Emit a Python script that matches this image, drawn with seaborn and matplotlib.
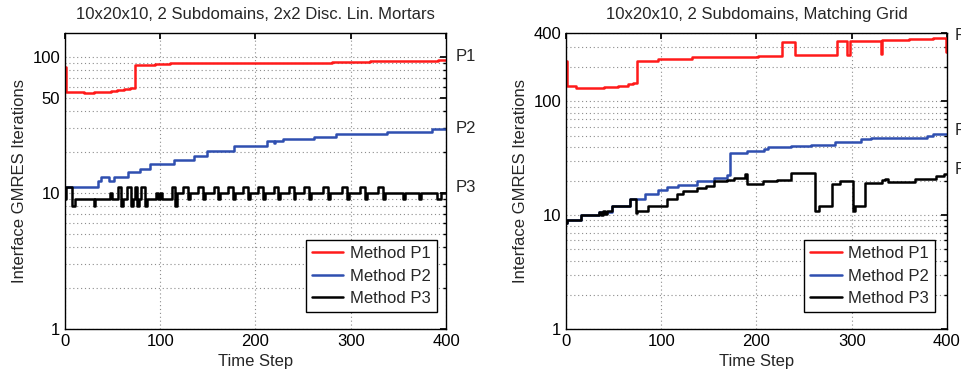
import matplotlib
matplotlib.use("Agg")
import matplotlib.pyplot as plt
import seaborn as sns
import pandas as pd
from matplotlib.ticker import FixedLocator, FixedFormatter, LogLocator, NullFormatter

# ---- data: step breakpoints (time step, iterations) ----
# left panel: 2x2 discontinuous linear mortars
left_p1_t = [0, 1, 20, 30, 48, 55, 62, 68, 73, 83, 95, 110, 130, 200, 280, 320, 340, 360, 375, 392, 400]
left_p1_v = [85, 55, 54, 55, 56, 57, 58, 59, 87, 88, 89, 90, 91, 91, 92, 93, 94, 93, 94, 95, 95]

left_p2_t = [0, 35, 38, 42, 46, 52, 66, 79, 89, 114, 135, 149, 177, 212, 219, 221, 229, 261, 285, 338, 385, 400]
left_p2_v = [11.1, 12.3, 13.0, 13.0, 12.3, 13.0, 14.2, 15.1, 16.3, 17.4, 18.7, 20.2, 22.1, 24.1, 23.3, 24.1,
             25.0, 26.0, 27.2, 28.3, 29.4, 29.4]

left_p3_t = [0, 1, 7, 11, 30, 32, 47, 49, 56, 59, 61, 65, 69, 71, 73, 76, 78, 80, 84, 86,
             96, 98, 100, 102, 112, 116, 118,
             124, 129, 131, 140, 145, 147, 156, 161, 163, 171, 176, 178, 187, 192, 194,
             203, 208, 210, 219, 224, 226, 235, 240, 242, 251, 256, 258, 271, 276, 278,
             291, 296, 298, 310, 315, 317, 329, 334, 336,
             355, 357, 372, 374, 391, 395, 400]
left_p3_v = [9, 11, 8, 9, 8, 9, 10, 9, 11, 8, 9, 11, 8, 9, 11, 8, 9, 11, 8, 9,
             10, 9, 10, 9, 11, 8, 10,
             11, 9, 10, 11, 9, 10, 11, 9, 10, 11, 9, 10, 11, 9, 10,
             11, 9, 10, 11, 9, 10, 11, 9, 10, 11, 9, 10, 11, 9, 10,
             11, 9, 10, 11, 9, 10, 11, 9, 10,
             9, 10, 9, 10, 9, 10, 10]

# right panel: matching grid
right_p1_t = [0, 1, 10, 40, 55, 65, 70, 75, 97, 132, 183, 202, 227, 240, 285, 295, 298, 331, 332,
              360, 385, 398, 399, 400]
right_p1_v = [226, 136, 132, 133, 136, 142, 146, 229, 237, 246, 248, 250, 331, 257, 338, 258, 338, 262, 345,
              352, 358, 362, 270, 270]

right_p2_t = [0, 1, 16, 35, 48, 67, 83, 97, 106, 118, 137, 155, 169, 172, 190, 208, 212, 236, 257,
              282, 310, 320, 379, 385, 400]
right_p2_v = [8.6, 9.1, 10.0, 10.6, 12.1, 14.0, 15.5, 16.6, 17.6, 18.6, 19.8, 21.3, 22.8, 35.5, 36.5,
              38.5, 39.8, 40.5, 41.7, 44.0, 46.4, 48.0, 50.0, 52.0, 52.0]

right_p3_t = [0, 1, 16, 35, 37, 39, 41, 43, 48, 67, 73, 75, 86, 106, 116, 123, 137, 147, 155, 169,
              176, 188, 190, 207, 222, 236, 261, 266, 279, 288, 301, 303, 314, 332, 335, 338,
              366, 389, 397, 400]
right_p3_v = [8.6, 9.1, 10.0, 10.6, 10.0, 10.8, 10.2, 11.0, 12.1, 14.0, 10.5, 11.0, 12.1, 14.0, 15.3,
              16.3, 17.2, 18.1, 19.8, 20.4, 21.4, 22.9, 18.8, 19.8, 20.6, 23.5, 10.9, 12.1, 19.0, 20.0,
              10.9, 12.0, 19.3, 20.4, 21.0, 19.6, 21.0, 22.1, 23.0, 23.0]

titles = ["10x20x10, 2 Subdomains, 2x2 Disc. Lin. Mortars", "10x20x10, 2 Subdomains, Matching Grid"]
methods = ["Method P1", "Method P2", "Method P3"]
tags = ["P1", "P2", "P3"]
colors = ["#ff1a1a", "#2f4fb0", "#000000"]
left_yticks = [1, 10, 50, 100]
right_yticks = [1, 10, 100, 400]
left_tag_y = [100, 30, 11]
right_tag_y = [380, 56, 25]

sns.set_theme(style="white")
plt.rcParams['font.family'] = ['Liberation Sans', 'DejaVu Sans']

fig = plt.figure(figsize=(9.61, 3.75), dpi=100)
ax1 = fig.add_axes([0.0676, 0.1227, 0.3965, 0.7893])
ax2 = fig.add_axes([0.589, 0.1227, 0.3964, 0.7893])

panels = [
    (ax1, [(left_p1_t, left_p1_v), (left_p2_t, left_p2_v), (left_p3_t, left_p3_v)],
     (1, 150), left_yticks, left_tag_y, 410, titles[0], (0.976, 0.057)),
    (ax2, [(right_p1_t, right_p1_v), (right_p2_t, right_p2_v), (right_p3_t, right_p3_v)],
     (1, 400), right_yticks, right_tag_y, 408, titles[1], (0.969, 0.057)),
]

for ax, series, ylim, yticks, tag_y, tag_x, title, leg_anchor in panels:
    for (t, v), name, col in zip(series, methods, colors):
        df = pd.DataFrame({"step": t, "iters": v})
        sns.lineplot(data=df, x="step", y="iters", ax=ax, color=col, label=name,
                     drawstyle="steps-post", linewidth=1.8)
    ax.set_yscale("log")
    ax.set_xlim(0, 400)
    ax.set_ylim(*ylim)
    ax.set_xticks([0, 100, 200, 300, 400])
    ax.yaxis.set_major_locator(FixedLocator(yticks))
    ax.yaxis.set_major_formatter(FixedFormatter([str(y) for y in yticks]))
    ax.yaxis.set_minor_locator(LogLocator(base=10, subs=range(2, 10)))
    ax.yaxis.set_minor_formatter(NullFormatter())
    ax.grid(True, which="major", axis="both", color="#8c8c8c", linestyle=(0, (1, 2.5)), linewidth=0.8)
    ax.grid(True, which="minor", axis="y", color="#8c8c8c", linestyle=(0, (1, 2.5)), linewidth=0.8)
    ax.tick_params(axis="both", which="both", direction="in", top=True, right=True,
                   labelsize=12, colors="black", length=4)
    ax.tick_params(axis="y", which="minor", length=2)
    for s in ax.spines.values():
        s.set_color("black")
        s.set_linewidth(1.0)
    ax.set_xlabel("Time Step", fontsize=12, labelpad=4)
    ax.set_ylabel("Interface GMRES Iterations", fontsize=12)
    ax.set_title(title, fontsize=12, pad=10)
    for tg, ty in zip(tags, tag_y):
        ax.text(tag_x, ty, tg, fontsize=12, va="center", ha="left", clip_on=False)
    leg = ax.legend(loc="lower right", bbox_to_anchor=leg_anchor, fontsize=12, frameon=True,
                    fancybox=False, edgecolor="black", framealpha=1, borderaxespad=0,
                    handlelength=1.9, handletextpad=0.4, labelspacing=0.45, borderpad=0.35)
    leg.get_frame().set_linewidth(1.0)

fig.savefig("out.png", dpi=100)
